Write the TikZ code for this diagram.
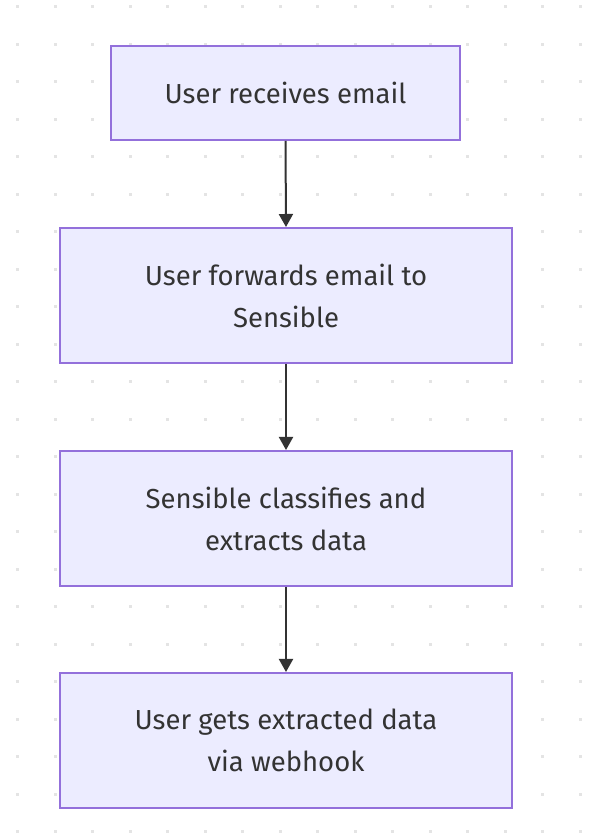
\documentclass[tikz,border=0pt]{standalone}
\usepackage{fontspec}
\setmainfont{Fira Sans}
\usetikzlibrary{arrows.meta}
\definecolor{boxfill}{HTML}{ECECFF}
\definecolor{boxline}{HTML}{9370DB}
\definecolor{txt}{HTML}{333333}
\definecolor{dotc}{HTML}{E4E4E4}
\tikzset{
  flowbox/.style={draw=boxline, fill=boxfill, line width=2pt, text=txt,
    font=\fontsize{27.5}{42}\selectfont, align=center, inner sep=0pt},
  flowarrow/.style={draw=txt, line width=2pt, -{Triangle[width=14pt,length=13pt]}}
}
\begin{document}
\begin{tikzpicture}[x=1pt,y=1pt]
\useasboundingbox (0,0) rectangle (603,840);
\fill[white] (0,0) rectangle (603,840);
\foreach \i in {0,...,15}{
  \foreach \j in {0,...,22}{
    \fill[dotc] ({17.7+37.5*\i-1.5},{840-6.7-37.5*\j-1.5}) rectangle ++(3,3);
  }
}
\node[flowbox, minimum width=349pt, minimum height=94pt] (a) at (285.5,747) {User receives email};
\node[flowbox, minimum width=452pt, minimum height=135pt] (b) at (286,544.5) {User forwards email to\\Sensible};
\node[flowbox, minimum width=452pt, minimum height=135pt] (c) at (286,321.5) {Sensible classifies and\\extracts data};
\node[flowbox, minimum width=452pt, minimum height=135pt] (d) at (286,99.5) {User gets extracted data\\via webhook};
\draw[flowarrow] (a.south) -- (b.north);
\draw[flowarrow] (b.south) -- (c.north);
\draw[flowarrow] (c.south) -- (d.north);
\end{tikzpicture}
\end{document}
